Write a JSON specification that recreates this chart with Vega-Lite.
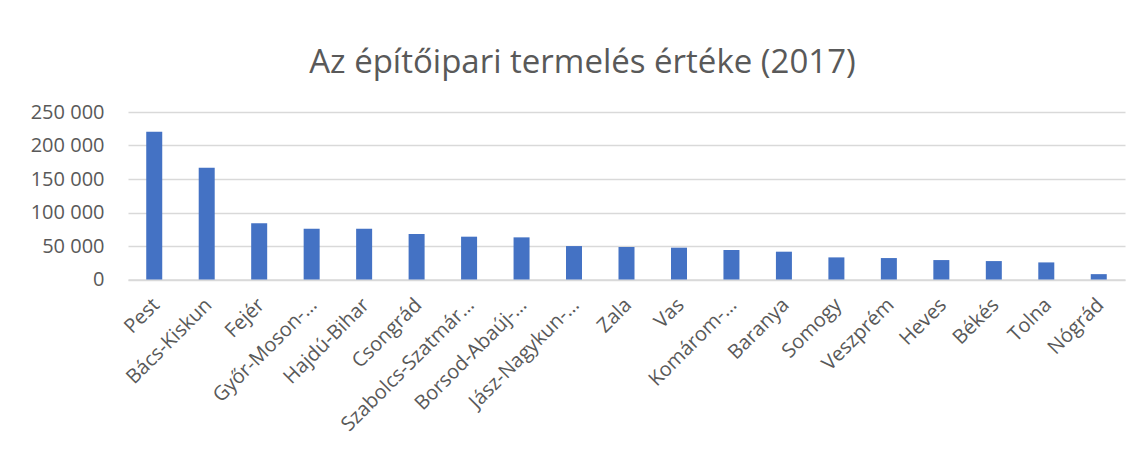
{
  "$schema": "https://vega.github.io/schema/vega-lite/v6.json",
  "autosize": {"type": "none"},
  "width": 997,
  "height": 167.5,
  "padding": {"left": 128, "top": 112, "right": 17, "bottom": 170},
  "background": "white",
  "title": {
    "text": "Az építőipari termelés értéke (2017)",
    "font": "Open Sans",
    "fontSize": 33,
    "fontWeight": "normal",
    "color": "#595959",
    "anchor": "middle",
    "dx": -44,
    "offset": 22
  },
  "data": {
    "values": [
      {"megye": "Pest", "ertek": 220600},
      {"megye": "Bács-Kiskun", "ertek": 166700},
      {"megye": "Fejér", "ertek": 83800},
      {"megye": "Győr-Moson-…", "ertek": 75800},
      {"megye": "Hajdú-Bihar", "ertek": 75800},
      {"megye": "Csongrád", "ertek": 67900},
      {"megye": "Szabolcs-Szatmár-…", "ertek": 63900},
      {"megye": "Borsod-Abaúj-…", "ertek": 62900},
      {"megye": "Jász-Nagykun-…", "ertek": 49900},
      {"megye": "Zala", "ertek": 48500},
      {"megye": "Vas", "ertek": 47500},
      {"megye": "Komárom-…", "ertek": 44000},
      {"megye": "Baranya", "ertek": 41500},
      {"megye": "Somogy", "ertek": 33000},
      {"megye": "Veszprém", "ertek": 32000},
      {"megye": "Heves", "ertek": 29000},
      {"megye": "Békés", "ertek": 27500},
      {"megye": "Tolna", "ertek": 25500},
      {"megye": "Nógrád", "ertek": 8000}
    ]
  },
  "mark": {"type": "bar", "color": "#4472C4"},
  "encoding": {
    "x": {
      "field": "megye",
      "type": "nominal",
      "sort": null,
      "title": null,
      "scale": {"paddingInner": 0.695, "paddingOuter": 0.3475},
      "axis": {
        "labelAngle": -45,
        "labelAlign": "right",
        "labelBaseline": "middle",
        "labelFont": "Open Sans",
        "labelFontSize": 20,
        "labelColor": "#595959",
        "labelPadding": 22,
        "labelOffset": 2,
        "ticks": false,
        "domainColor": "#D9D9D9",
        "domainWidth": 1.5,
        "grid": false
      }
    },
    "y": {
      "field": "ertek",
      "type": "quantitative",
      "title": null,
      "scale": {"domain": [0, 250000], "nice": false},
      "axis": {
        "values": [0, 50000, 100000, 150000, 200000, 250000],
        "labelExpr": "replace(format(datum.value, ','), /,/g, ' ')",
        "labelFont": "Open Sans",
        "labelFontSize": 20,
        "labelColor": "#595959",
        "labelPadding": 24,
        "ticks": false,
        "domain": false,
        "gridColor": "#D9D9D9",
        "gridWidth": 1.5
      }
    }
  },
  "config": {
    "view": {"stroke": null}
  }
}
